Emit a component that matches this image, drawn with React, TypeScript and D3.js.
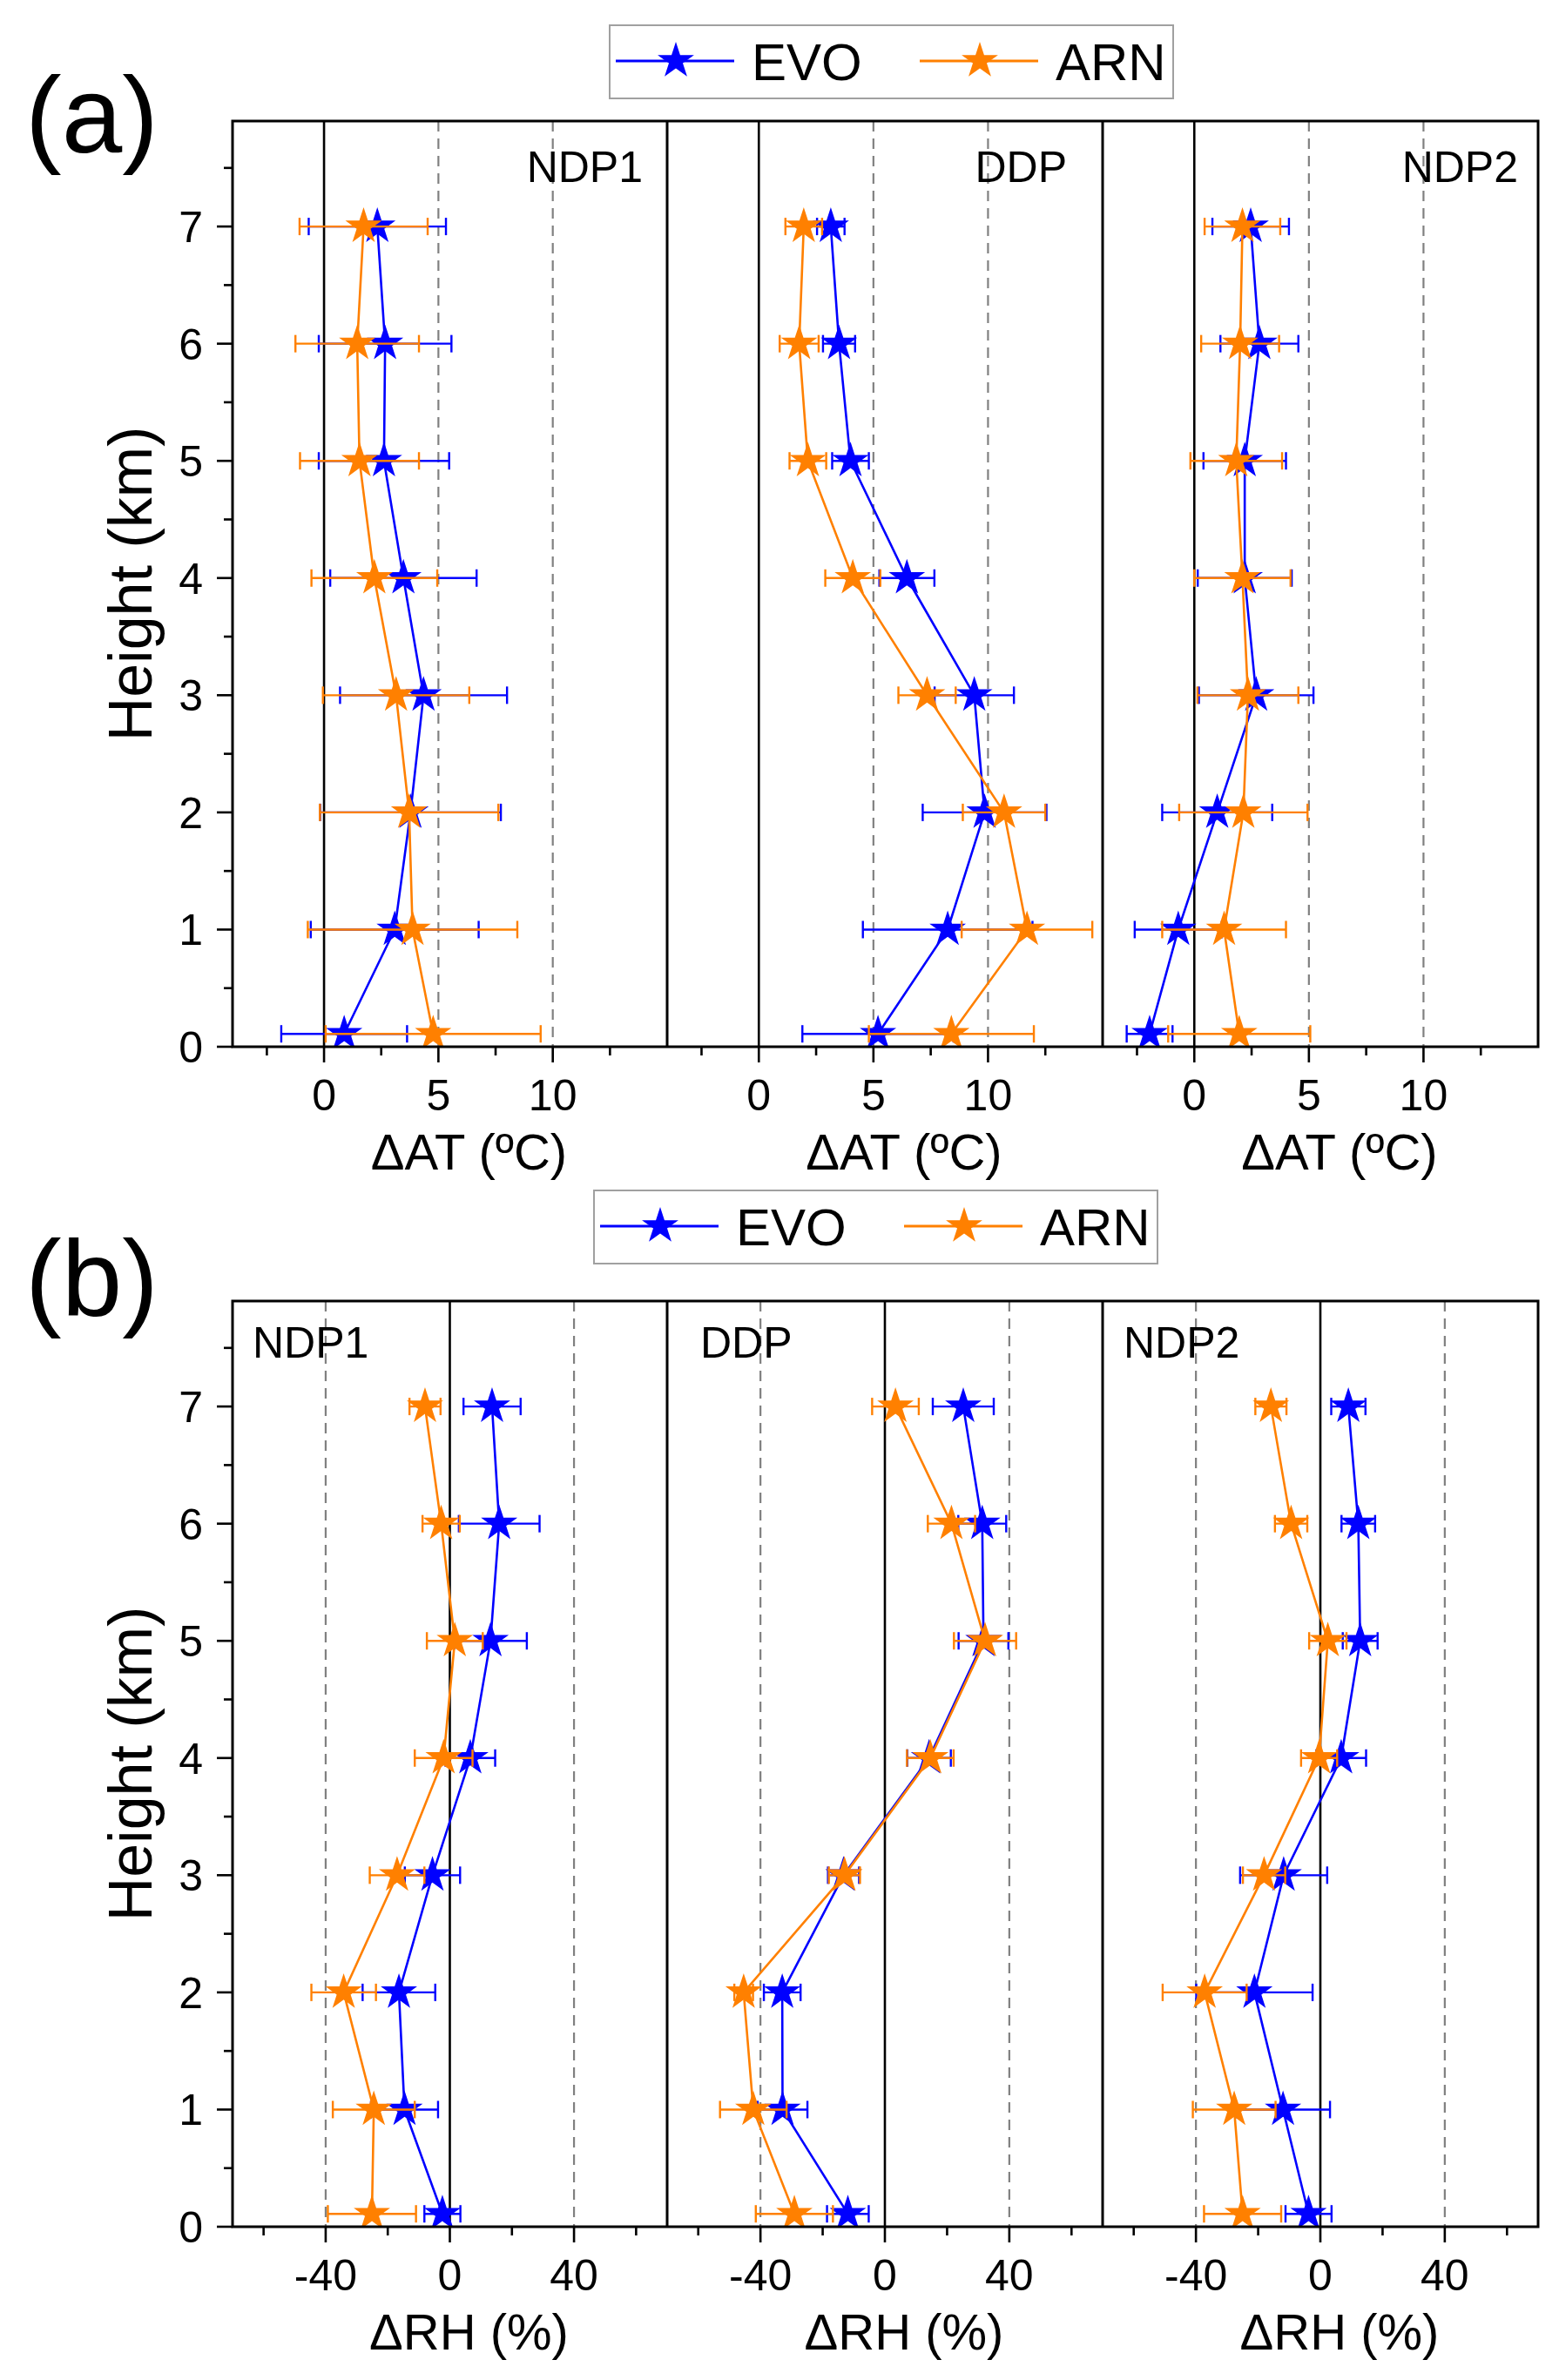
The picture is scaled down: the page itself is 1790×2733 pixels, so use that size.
import * as d3 from "d3";

// heights of the sounding levels (km), bottom to top
const heights = [0.11, 1, 2, 3, 4, 5, 6, 7];
const sites = ["NDP1", "DDP", "NDP2"];
const seriesNames = ["EVO", "ARN"];
const seriesColors = ["#0000ff", "#ff8000"];

// (a) ΔAT (ºC)
const atEvoNdp1 = [0.88, 3.09, 3.78, 4.35, 3.47, 2.62, 2.67, 2.33];
const atEvoNdp1Err = [2.75, 3.67, 3.95, 3.65, 3.2, 2.85, 2.9, 3.0];
const atArnNdp1 = [4.77, 3.87, 3.72, 3.15, 2.2, 1.55, 1.45, 1.73];
const atArnNdp1Err = [4.7, 4.58, 3.9, 3.2, 2.75, 2.6, 2.7, 2.8];
const atEvoDdp = [5.2, 8.24, 9.85, 9.4, 6.46, 4.0, 3.5, 3.14];
const atEvoDdpErr = [3.3, 3.7, 2.7, 1.73, 1.2, 0.8, 0.7, 0.6];
const atArnDdp = [8.4, 11.7, 10.7, 7.34, 4.1, 2.14, 1.76, 1.96];
const atArnDdpErr = [3.6, 2.85, 1.8, 1.25, 1.2, 0.8, 0.85, 0.8];
const atEvoNdp2 = [-1.95, -0.7, 1.0, 2.7, 2.2, 2.2, 2.84, 2.46];
const atEvoNdp2Err = [1.0, 1.9, 2.4, 2.5, 2.05, 1.8, 1.7, 1.67];
const atArnNdp2 = [1.96, 1.3, 2.14, 2.34, 2.1, 1.83, 2.0, 2.1];
const atArnNdp2Err = [3.1, 2.7, 2.8, 2.2, 2.1, 2.0, 1.7, 1.65];

// (b) ΔRH (%)
const rhEvoNdp1 = [-2.4, -14.6, -16.4, -5.6, 6.6, 13.1, 15.9, 13.6];
const rhEvoNdp1Err = [5.8, 10.8, 11.7, 8.9, 8, 11.7, 13, 9.2];
const rhArnNdp1 = [-25.1, -24.5, -34.2, -17, -2.0, 1.6, -2.8, -8.0];
const rhArnNdp1Err = [14.2, 13.2, 10.4, 8.8, 9.3, 9, 6, 5];
const rhEvoDdp = [-11.9, -32.9, -33, -13.3, 14.2, 31.7, 31.3, 25.2];
const rhEvoDdpErr = [6.7, 8, 5.9, 5, 7, 8, 7.7, 9.8];
const rhArnDdp = [-29.1, -42.3, -45.4, -13, 14.6, 32.2, 21.4, 3.4];
const rhArnDdpErr = [12.4, 10.7, 3, 5, 7.5, 10, 7.6, 7.5];
const rhEvoNdp2 = [-3.8, -12, -21.2, -11.8, 6.7, 12.8, 12.2, 9.0];
const rhEvoNdp2Err = [7.4, 15.1, 18.7, 14, 8, 5.6, 5.4, 5.5];
const rhArnNdp2 = [-25, -27.7, -37.2, -18.1, -0.4, 2.4, -9.4, -15.9];
const rhArnNdp2Err = [12.4, 13.3, 13.5, 6.8, 5.8, 6, 5.2, 5];

const atTicks = [0, 5, 10];
const atMinor = [-2.5, 2.5, 7.5, 12.5];
const rhTicks = [-40, 0, 40];
const rhMinor = [-60, -20, 20, 60];

const FONT = "'Liberation Sans', Arial, Helvetica, sans-serif";
const W = 1790, H = 2733;
const edges = [267, 766, 1266, 1766];
const starPath = d3.symbol(d3.symbolStar, 22 * 22 / 0.8908130915292852)() || "";
const legendStar = starPath;

type Series = { mean: number[]; err: number[] };

const atSets: Series[][] = [
  [{ mean: atEvoNdp1, err: atEvoNdp1Err }, { mean: atArnNdp1, err: atArnNdp1Err }],
  [{ mean: atEvoDdp, err: atEvoDdpErr }, { mean: atArnDdp, err: atArnDdpErr }],
  [{ mean: atEvoNdp2, err: atEvoNdp2Err }, { mean: atArnNdp2, err: atArnNdp2Err }],
];
const rhSets: Series[][] = [
  [{ mean: rhEvoNdp1, err: rhEvoNdp1Err }, { mean: rhArnNdp1, err: rhArnNdp1Err }],
  [{ mean: rhEvoDdp, err: rhEvoDdpErr }, { mean: rhArnDdp, err: rhArnDdpErr }],
  [{ mean: rhEvoNdp2, err: rhEvoNdp2Err }, { mean: rhArnNdp2, err: rhArnNdp2Err }],
];

function Legend({ x, y }: { x: number; y: number }) {
  return (
    <g transform={`translate(${x},${y})`}>
      <rect x={0} y={0} width={647} height={84} fill="#fff" stroke="#a0a0a0" strokeWidth={2} />
      {seriesNames.map((n, i) => (
        <g key={n} transform={`translate(${i * 349},0)`}>
          <line x1={7} x2={143} y1={41} y2={41} stroke={seriesColors[i]} strokeWidth={3} />
          <path d={legendStar} transform="translate(76,41)" fill={seriesColors[i]} />
          <text x={163} y={63} fontSize={60} fontFamily={FONT}>{n}</text>
        </g>
      ))}
    </g>
  );
}

function Block(props: {
  id: string; top: number; bottom: number; xDomain: [number, number];
  major: number[]; minor: number[]; dash: number[]; xTitle: string;
  sets: Series[][]; labelAlign: "end" | "start"; labelXs: number[]; labelY: number;
  tag: string; tagY: number; legendX: number; legendY: number;
}) {
  const { id, top, bottom, xDomain, major, minor, dash, xTitle, sets, labelAlign, labelXs, labelY, tag, tagY, legendX, legendY } = props;
  const y = d3.scaleLinear().domain([0, 7.9]).range([bottom, top]);
  const yMajor = d3.range(0, 8);
  const yMinor = d3.range(0.5, 7.6, 1);
  return (
    <g>
      {sites.map((site, p) => {
        const x = d3.scaleLinear().domain(xDomain).range([edges[p], edges[p + 1]]);
        const clipId = `${id}-clip-${p}`;
        return (
          <g key={site}>
            <clipPath id={clipId}>
              <rect x={edges[p]} y={top} width={edges[p + 1] - edges[p]} height={bottom - top} />
            </clipPath>
            {dash.map((v) => (
              <line key={v} x1={x(v)} x2={x(v)} y1={top} y2={bottom} stroke="#808080" strokeWidth={2.2} strokeDasharray="12 8" />
            ))}
            <line x1={x(0)} x2={x(0)} y1={top} y2={bottom} stroke="#000" strokeWidth={2.6} />
            <g clipPath={`url(#${clipId})`}>
              {sets[p].map((s, si) => {
                const line = d3.line<number>().x((v) => x(v)).y((_, i) => y(heights[i]));
                const c = seriesColors[si];
                return (
                  <g key={si}>
                    <path d={line(s.mean) || ""} fill="none" stroke={c} strokeWidth={2.6} />
                    {s.mean.map((m, i) => {
                      const yy = y(heights[i]);
                      const x0 = x(m - s.err[i]), x1 = x(m + s.err[i]);
                      return (
                        <g key={i} stroke={c} strokeWidth={2.4}>
                          <line x1={x0} x2={x1} y1={yy} y2={yy} />
                          <line x1={x0} x2={x0} y1={yy - 10} y2={yy + 10} />
                          <line x1={x1} x2={x1} y1={yy - 10} y2={yy + 10} />
                        </g>
                      );
                    })}
                    {s.mean.map((m, i) => (
                      <path key={i} d={starPath} transform={`translate(${x(m)},${y(heights[i])})`} fill={c} />
                    ))}
                  </g>
                );
              })}
            </g>
            {major.map((v) => (
              <g key={v}>
                <line x1={x(v)} x2={x(v)} y1={bottom} y2={bottom + 18} stroke="#000" strokeWidth={2.6} />
                <text x={x(v)} y={bottom + 73} textAnchor="middle" fontSize={50} fontFamily={FONT}>{v}</text>
              </g>
            ))}
            {minor.map((v) => (
              <line key={v} x1={x(v)} x2={x(v)} y1={bottom} y2={bottom + 10} stroke="#000" strokeWidth={2.6} />
            ))}
            <text x={(edges[p] + edges[p + 1]) / 2 + 22} y={bottom + 141} textAnchor="middle" fontSize={58} fontFamily={FONT}>{xTitle}</text>
            <text x={labelXs[p]} y={labelY} textAnchor={labelAlign} fontSize={50} fontFamily={FONT}>{site}</text>
          </g>
        );
      })}
      {edges.slice(1, 3).map((e) => (
        <line key={e} x1={e} x2={e} y1={top} y2={bottom} stroke="#000" strokeWidth={3} />
      ))}
      <rect x={edges[0]} y={top} width={edges[3] - edges[0]} height={bottom - top} fill="none" stroke="#000" strokeWidth={3} />
      {yMajor.map((v) => (
        <g key={v}>
          <line x1={edges[0] - 18} x2={edges[0]} y1={y(v)} y2={y(v)} stroke="#000" strokeWidth={2.6} />
          <text x={233} y={y(v)} dy="0.36em" textAnchor="end" fontSize={50} fontFamily={FONT}>{v}</text>
        </g>
      ))}
      {yMinor.map((v) => (
        <line key={v} x1={edges[0] - 10} x2={edges[0]} y1={y(v)} y2={y(v)} stroke="#000" strokeWidth={2.6} />
      ))}
      <text transform={`translate(174,${(top + bottom) / 2}) rotate(-90)`} textAnchor="middle" fontSize={70} fontFamily={FONT}>Height (km)</text>
      <text x={29} y={tagY} fontSize={125} fontFamily={FONT}>{tag}</text>
      <Legend x={legendX} y={legendY} />
    </g>
  );
}

export default function App() {
  return (
    <svg width={W} height={H} viewBox={`0 0 ${W} ${H}`} style={{ position: "absolute", left: 0, top: 0, background: "#fff" }}>
      <rect width={W} height={H} fill="#fff" />
      <Block id="a" top={139} bottom={1202} xDomain={[-4, 15]} major={atTicks} minor={atMinor} dash={[5, 10]}
        xTitle="ΔAT (ºC)" sets={atSets} labelAlign="end" labelXs={[738, 1225, 1743]} labelY={209}
        tag="(a)" tagY={175} legendX={700} legendY={29} />
      <Block id="b" top={1494} bottom={2557} xDomain={[-70, 70]} major={rhTicks} minor={rhMinor} dash={[-40, 40]}
        xTitle="ΔRH (%)" sets={rhSets} labelAlign="start" labelXs={[290, 804, 1290]} labelY={1559}
        tag="(b)" tagY={1511} legendX={682} legendY={1367} />
    </svg>
  );
}
